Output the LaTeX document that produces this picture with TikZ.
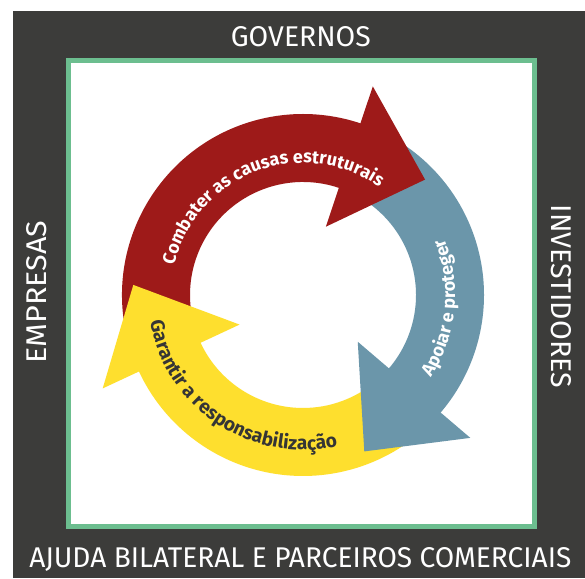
\documentclass[tikz,border=0pt]{standalone}
\usepackage{fontspec}
\setmainfont{Fira Sans}
\newfontfamily\arrowfont{Fira Sans}
\usetikzlibrary{decorations.text}
\definecolor{darkbg}{HTML}{3C3C3A}
\definecolor{framegreen}{HTML}{6CBE8F}
\definecolor{arrred}{HTML}{9E1A19}
\definecolor{arrblue}{HTML}{6B96AA}
\definecolor{arryellow}{HTML}{FEDF2E}
\definecolor{textdark}{HTML}{353535}
\tikzset{
  lbl/.style={text=white, inner sep=0pt},
  arctext/.style={decorate, decoration={text along path, text align=center, text={#1}}}
}
\begin{document}
\begin{tikzpicture}[x=1pt,y=1pt]
\useasboundingbox (0,0) rectangle (585,578);
\fill[white] (0,0) rectangle (585,578);
\fill[darkbg] (13,0) rectangle (585,567);
\draw[framegreen, line width=5pt, fill=white] (68.5,51.5) rectangle (534.2,517.3);
\begin{scope}[shift={(303,283)}]
  % shafts
  \fill[arrred] (193:181) arc[start angle=193, end angle=71, radius=181]
     -- (71:113) arc[start angle=71, end angle=193, radius=113] -- cycle;
  \fill[arrblue] (60:181) arc[start angle=60, end angle=-41, radius=181]
     -- (-41:113) arc[start angle=-41, end angle=60, radius=113] -- cycle;
  \fill[arryellow] (306:181) arc[start angle=306, end angle=204.5, radius=181]
     -- (204.5:113) arc[start angle=204.5, end angle=306, radius=113] -- cycle;
  % heads
  \fill[arrred] (71.5:72) -- (71.5:220) -- (43.4:168) -- cycle;
  \fill[arrblue] (-40.5:72) -- (-40.5:220) -- (-68.6:168) -- cycle;
  \fill[arryellow] (205:70) -- (205:221) -- (176.6:170) -- cycle;
  % texts
  \path[arctext={|\arrowfont\bfseries\fontsize{18}{20}\selectfont\color{white}|Combater as causas estruturais}]
    (175:132) arc[start angle=175, end angle=47, radius=132];
  \path[arctext={|\arrowfont\bfseries\fontsize{18}{20}\selectfont\color{white}|Apoiar e proteger}]
    (-45:152) arc[start angle=-45, end angle=34, radius=152];
  \path[arctext={|\arrowfont\bfseries\fontsize{19.2}{21}\selectfont\color{textdark}|Garantir a responsabilização}]
    (176:155) arc[start angle=176, end angle=297, radius=155];
\end{scope}
\node[lbl] (gov) at (300.8,541) {\resizebox{140pt}{20pt}{GOVERNOS}};
\node[lbl] (ajuda) at (300.3,19) {\resizebox{542pt}{20pt}{AJUDA BILATERAL E PARCEIROS COMERCIAIS}};
\node[lbl, rotate=90] (emp) at (37,286) {\resizebox{143pt}{20pt}{EMPRESAS}};
\node[lbl, rotate=-90] (inv) at (561,281.5) {\resizebox{183pt}{20pt}{INVESTIDORES}};
\end{tikzpicture}
\end{document}
